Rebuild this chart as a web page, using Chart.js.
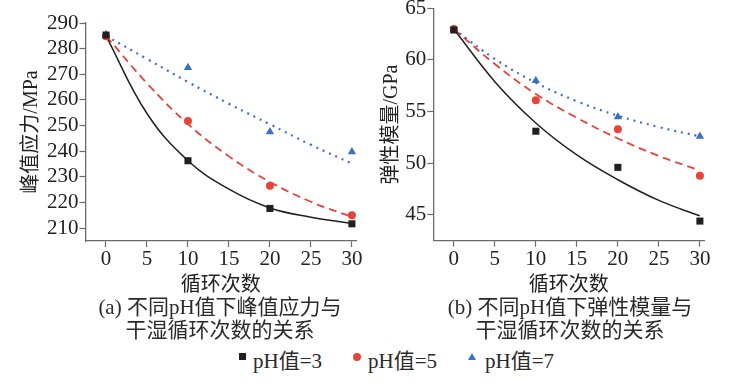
<!DOCTYPE html>
<html>
<head>
<meta charset="utf-8">
<script src="https://cdn.jsdelivr.net/npm/chart.js@4.4.0/dist/chart.umd.min.js"></script>
<style>
  body { margin: 0; background: #fff; width: 747px; height: 391px; overflow: hidden; position: relative;
         font-family: 'Liberation Serif', 'Noto Sans CJK SC', serif; color: #2a2a2a; }
  canvas { position: absolute; }
  .cap { position: absolute; font-size: 21px; line-height: 23px; text-align: center; width: 360px; }
  .legend { position: absolute; top: 344px; left: 0; width: 747px; font-size: 21px; }
  .item { position: absolute; top: 0; white-space: nowrap; }
  .mk { position: absolute; }
</style>
</head>
<body>
<canvas id="chartA" width="370" height="298" style="left:0;top:0;width:370px;height:298px"></canvas>
<canvas id="chartB" width="377" height="313" style="left:370px;top:-15px;width:377px;height:313px"></canvas>

<div class="cap" style="left:40px;top:296px">(a) 不同pH值下峰值应力与<br>干湿循环次数的关系</div>
<div class="cap" style="left:390px;top:296px">(b) 不同pH值下弹性模量与<br>干湿循环次数的关系</div>

<div class="legend">
  <div class="mk" style="left:239px;top:9px;width:7px;height:7px;background:#231f20"></div>
  <div class="item" style="left:253px">pH值=3</div>
  <div class="mk" style="left:353px;top:9px;width:8px;height:8px;border-radius:50%;background:#e8433a"></div>
  <div class="item" style="left:368px">pH值=5</div>
  <div class="mk" style="left:468px;top:9px;width:0;height:0;border-left:4px solid transparent;border-right:4px solid transparent;border-bottom:7px solid #3a6fc4"></div>
  <div class="item" style="left:485px">pH值=7</div>
</div>

<script>
// measured points
const cycles = [0, 10, 20, 30];
const stressPH3 = [285.3, 236.3, 217.7, 211.7];
const stressPH5 = [284.8, 251.8, 226.5, 215.0];
const stressPH7 = [285.5, 272.6, 247.6, 239.8];
const modulusPH3 = [62.9, 53.1, 49.6, 44.4];
const modulusPH5 = [63.0, 56.1, 53.3, 48.8];
const modulusPH7 = [63.0, 58.0, 54.5, 52.6];

// fitted curves
const fitCycles = [0, 5, 10, 15, 20, 25, 30];
const stressFit3 = [285, 254.7, 236.3, 225.2, 217.9, 214.3, 211.8];
const stressFit5 = [285, 266.5, 250.6, 238.0, 228.0, 220.3, 214.4];
const stressFit7 = [285, 276, 267, 258.5, 250.5, 242.5, 235.2];
const modulusFit3 = [63, 57.9, 53.9, 50.8, 48.4, 46.4, 44.9];
const modulusFit5 = [63, 59.6, 56.7, 54.4, 52.4, 50.7, 49.3];
const modulusFit7 = [63, 60.1, 57.8, 56.0, 54.6, 53.5, 52.6];

const xTicks = [0, 5, 10, 15, 20, 25, 30];
const stressTicks = [210, 220, 230, 240, 250, 260, 270, 280, 290];
const modulusTicks = [45, 50, 55, 60, 65];

const FONT = "'Liberation Serif', 'Noto Sans CJK SC', serif";
const BLACK = '#231f20', RED = '#e8433a', BLUE = '#3a6fc4';
const AXIS = '#6b6b6b';

const pts = (xs, ys) => xs.map((x, i) => ({ x: x, y: ys[i] }));

function fitLine(xs, ys, color, dash, width) {
    return {
        type: 'line', data: pts(xs, ys), borderColor: color, borderWidth: width,
        borderDash: dash, pointRadius: 0, fill: false, tension: 0.4,
        clip: false, order: 2
    };
}
function marks(ys, color, style, r) {
    return {
        type: 'scatter', data: pts(cycles, ys), backgroundColor: color, borderColor: color,
        pointStyle: style, pointRadius: r, borderWidth: 0, clip: false, order: 1
    };
}

function makeChart(id, cfg) {
    return new Chart(document.getElementById(id), {
        type: 'scatter',
        data: {
            datasets: [
                fitLine(fitCycles, cfg.fit3, BLACK, [], 1.5),
                fitLine(fitCycles, cfg.fit5, RED, [8, 5], 1.8),
                fitLine(fitCycles, cfg.fit7, BLUE, [2, 5], 2.2),
                marks(cfg.ph3, BLACK, 'rect', 5),
                marks(cfg.ph5, RED, 'circle', 4),
                marks(cfg.ph7, BLUE, 'triangle', 4.8)
            ]
        },
        options: {
            responsive: false,
            animation: false,
            layout: { padding: cfg.padding },
            plugins: { legend: { display: false }, tooltip: { enabled: false } },
            scales: {
                x: {
                    type: 'linear', min: -2.5, max: 30.5,
                    afterBuildTicks: s => { s.ticks = xTicks.map(v => ({ value: v })); },
                    afterFit: s => { s.height = cfg.xHeight; },
                    grid: { drawOnChartArea: false, tickLength: 6, color: AXIS, tickWidth: 1.2 },
                    border: { color: AXIS, width: 1.3 },
                    ticks: { color: '#222', font: { family: FONT, size: 21 }, padding: 0,
                             maxRotation: 0, autoSkip: false },
                    title: { display: true, text: '循环次数', color: '#222',
                             font: { family: FONT, size: 20 }, padding: { top: 0, bottom: 0 } }
                },
                y: {
                    type: 'linear', min: cfg.yMin, max: cfg.yMax,
                    afterBuildTicks: s => { s.ticks = cfg.yTicks.map(v => ({ value: v })); },
                    afterFit: s => { s.width = cfg.yWidth; },
                    grid: { drawOnChartArea: false, tickLength: 6, color: AXIS, tickWidth: 1.2 },
                    border: { color: AXIS, width: 1.3 },
                    ticks: { color: '#222', font: { family: FONT, size: 21 }, padding: 1, autoSkip: false },
                    title: { display: true, text: cfg.yTitle, color: '#222',
                             font: { family: FONT, size: 20 }, padding: { top: cfg.yTitlePad, bottom: 0 } }
                }
            }
        }
    });
}

makeChart('chartA', {
    ph3: stressPH3, ph5: stressPH5, ph7: stressPH7,
    fit3: stressFit3, fit5: stressFit5, fit7: stressFit7,
    yMin: 205, yMax: 290, yTicks: stressTicks, yTitle: '峰值应力/MPa',
    padding: { left: 0, top: 23, right: 14, bottom: 0 },
    xHeight: 57, yWidth: 85.5, yTitlePad: 20
});

makeChart('chartB', {
    ph3: modulusPH3, ph5: modulusPH5, ph7: modulusPH7,
    fit3: modulusFit3, fit5: modulusFit5, fit7: modulusFit7,
    yMin: 42.5, yMax: 65, yTicks: modulusTicks, yTitle: '弹性模量/GPa',
    padding: { left: 0, top: 23.3, right: 43, bottom: 0 },
    xHeight: 57.3, yWidth: 63.3, yTitlePad: 10
});
</script>
</body>
</html>
